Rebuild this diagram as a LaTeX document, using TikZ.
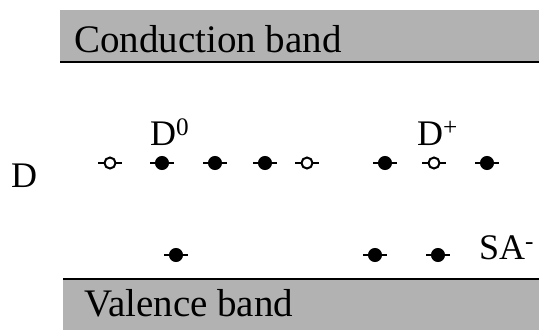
\documentclass[tikz,border=0pt]{standalone}
\usepackage{fontspec}
\setmainfont{Liberation Serif}
\usetikzlibrary{backgrounds}
\begin{document}
\begin{tikzpicture}[x=1pt,y=-1pt,
  bandfill/.style={fill=black!30, draw=none},
  bandedge/.style={line width=2.4pt, black},
  bigtext/.style={font=\fontsize{39}{45}\selectfont, inner sep=0pt, anchor=base west},
  lbl/.style={font=\fontsize{36}{42}\selectfont, inner sep=0pt, anchor=base west},
  emptytrap/.style={circle, draw=black, line width=2pt, fill=white, minimum size=11pt, inner sep=0pt},
  fulltrap/.style={circle, draw=black, line width=1pt, fill=black, minimum size=13pt, inner sep=0pt},
  bar/.style={line width=2pt, black}]
\useasboundingbox (0,0) rectangle (539,330);
% bands
\fill[bandfill] (60,10) rectangle (539,62);
\draw[bandedge] (60,62) -- (539,62);
\fill[bandfill] (63,279) rectangle (539,330);
\draw[bandedge] (63,279) -- (539,279);
\node[bigtext] (cb) at (74,52) {Conduction band};
\node[bigtext] (vb) at (84,316) {Valence band};
% labels
\node[lbl] (D) at (11,187) {D};
\node[lbl] (D0) at (150,145) {D\textsuperscript{0}};
\node[lbl] (Dp) at (417,145) {D\textsuperscript{+}};
\node[lbl] (SA) at (479,259) {SA\textsuperscript{-}};
% donor level
\node[emptytrap] (t1) at (110,163) {};
\node[fulltrap]  (t2) at (162,163) {};
\node[fulltrap]  (t3) at (215,163) {};
\node[fulltrap]  (t4) at (265,163) {};
\node[emptytrap] (t5) at (307,163) {};
\node[fulltrap]  (t6) at (385,163) {};
\node[emptytrap] (t7) at (434,163) {};
\node[fulltrap]  (t8) at (487,163) {};
% acceptor level
\node[fulltrap] (a1) at (176,255) {};
\node[fulltrap] (a2) at (375,255) {};
\node[fulltrap] (a3) at (438,255) {};
\begin{scope}[on background layer]
\foreach \n in {t1,t2,t3,t4,t5,t6,t7,t8,a1,a2,a3}
  \draw[bar] (\n.center) ++(-12,0) -- ++(24,0);
\end{scope}
\end{tikzpicture}
\end{document}
